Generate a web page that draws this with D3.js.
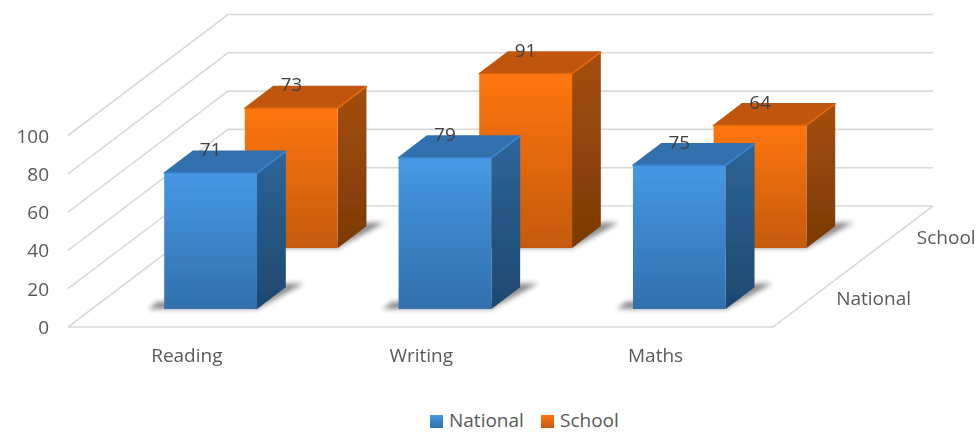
<!DOCTYPE html>
<html>
<head>
<meta charset="utf-8">
<script src="https://cdn.jsdelivr.net/npm/d3@7"></script>
<style>
  html, body { margin: 0; padding: 0; background: #fff; }
  text { font-family: "Open Sans", sans-serif; fill: #595959; }
  .tick-label { font-size: 19px; }
  .cat-label { font-size: 19px; }
  .value-label { font-size: 19px; fill: #404040; }
</style>
</head>
<body>
<svg id="chart" width="978" height="433"></svg>
<script>
const categories = ["Reading", "Writing", "Maths"];
const seriesNames = ["National", "School"];
const national = [71, 79, 75];
const school = [73, 91, 64];
const yTicks = [0, 20, 40, 60, 80, 100];

const FLOOR = { left: 68, right: 773, front: 327, shiftX: 160, shiftY: 121 };
const PLOT_HEIGHT = 191.5;

const COLORS = {
  National: { front: ["#4698E4", "#3070AC"], side: ["#2C6598", "#1E4870"], top: "#3071AE", edge: "#3A86D0" },
  School: { front: ["#FF7611", "#C45A10"], side: ["#A44F0E", "#7C3904"], top: "#C0570B", edge: "#E5670C" },
};

const values = { National: national, School: school };

const svg = d3.select("#chart");
const defs = svg.append("defs");

const xScale = d3
  .scaleBand()
  .domain(categories)
  .range([0, FLOOR.right - FLOOR.left])
  .paddingInner(0.604)
  .paddingOuter(0.306)
  .align(0.505);

const depthScale = d3
  .scaleBand()
  .domain(seriesNames)
  .range([0, 1])
  .paddingInner(0.643)
  .paddingOuter(0.3135)
  .align(0.47);

const yScale = d3.scaleLinear().domain([0, 100]).range([0, PLOT_HEIGHT]);

// oblique projection: x along the categories, d into the page, v up
const project = (x, d, v) => [
  FLOOR.left + x + d * FLOOR.shiftX,
  FLOOR.front - d * FLOOR.shiftY - yScale(v),
];

const toPoints = (pts) => pts.map((p) => p.join(",")).join(" ");

const addGradient = (id, stops) => {
  const g = defs
    .append("linearGradient")
    .attr("id", id)
    .attr("x1", 0)
    .attr("y1", 0)
    .attr("x2", 0)
    .attr("y2", 1);
  g.append("stop").attr("offset", "0%").attr("stop-color", stops[0]);
  g.append("stop").attr("offset", "100%").attr("stop-color", stops[1]);
};

seriesNames.forEach((s) => {
  addGradient(`front-${s}`, COLORS[s].front);
  addGradient(`side-${s}`, COLORS[s].side);
});

defs
  .append("filter")
  .attr("id", "shadow-blur")
  .attr("x", "-30%")
  .attr("y", "-60%")
  .attr("width", "160%")
  .attr("height", "220%")
  .append("feGaussianBlur")
  .attr("stdDeviation", 2.6);

defs
  .append("filter")
  .attr("id", "soft")
  .append("feGaussianBlur")
  .attr("stdDeviation", 0.45);

// walls and floor
const grid = svg
  .append("g")
  .attr("fill", "none")
  .attr("stroke", "#D9D9D9")
  .attr("stroke-width", 1.6);

grid
  .selectAll("polyline.wall")
  .data(yTicks)
  .join("polyline")
  .attr("class", "wall")
  .attr("points", (v) =>
    toPoints([
      project(0, 0, v),
      project(0, 1, v),
      project(FLOOR.right - FLOOR.left, 1, v),
    ])
  );

grid
  .append("polyline")
  .attr(
    "points",
    toPoints([
      project(0, 0, 0),
      project(FLOOR.right - FLOOR.left, 0, 0),
      project(FLOOR.right - FLOOR.left, 1, 0),
    ])
  );

// back row first so the front row covers it
const bars = svg.append("g").attr("filter", "url(#soft)");

[...seriesNames].reverse().forEach((s) => {
  const d0 = depthScale(s);
  const d1 = d0 + depthScale.bandwidth();

  categories.forEach((c, i) => {
    const x0 = xScale(c);
    const x1 = x0 + xScale.bandwidth();
    const v = values[s][i];
    const g = bars.append("g");

    g.append("polygon")
      .attr(
        "points",
        toPoints([
          project(x0 - 16, d0, 0),
          project(x1, d0, 0),
          project(x1 + 13, d1 + 0.03, 0),
          project(x1 - 5, d1 + 0.03, 0),
          project(x1 - 5, d0 + 0.06, 0),
          project(x0 - 16, d0 + 0.06, 0),
        ])
      )
      .attr("fill", "#3a3a3a")
      .attr("opacity", 0.6)
      .attr("filter", "url(#shadow-blur)");

    g.append("polygon")
      .attr(
        "points",
        toPoints([
          project(x0, d0, v),
          project(x1, d0, v),
          project(x1, d1, v),
          project(x0, d1, v),
        ])
      )
      .attr("fill", COLORS[s].top)
      .attr("stroke", COLORS[s].top)
      .attr("stroke-width", 1.5)
      .attr("stroke-linejoin", "round");

    g.append("polygon")
      .attr(
        "points",
        toPoints([
          project(x1, d0, 0),
          project(x1, d1, 0),
          project(x1, d1, v),
          project(x1, d0, v),
        ])
      )
      .attr("fill", `url(#side-${s})`);

    g.append("polygon")
      .attr(
        "points",
        toPoints([
          project(x0, d0, 0),
          project(x1, d0, 0),
          project(x1, d0, v),
          project(x0, d0, v),
        ])
      )
      .attr("fill", `url(#front-${s})`);

    // bevel along the top edges
    g.append("polyline")
      .attr(
        "points",
        toPoints([project(x0, d0, v), project(x1, d0, v), project(x1, d1, v)])
      )
      .attr("fill", "none")
      .attr("stroke", COLORS[s].edge)
      .attr("stroke-width", 1.6)
      .attr("stroke-linejoin", "round");
  });
});

// value labels sit on the back edge of each bar top
seriesNames.forEach((s) => {
  svg
    .append("g")
    .selectAll("text")
    .data(categories)
    .join("text")
    .attr("class", "value-label")
    .attr("text-anchor", "middle")
    .attr("x", (c) => project(xScale(c) + xScale.bandwidth() / 2, depthScale(s), 0)[0])
    .attr("y", (c, i) => project(0, depthScale(s) + depthScale.bandwidth(), values[s][i])[1] + 5)
    .text((c, i) => values[s][i]);
});

// value axis
svg
  .append("g")
  .selectAll("text")
  .data(yTicks)
  .join("text")
  .attr("class", "tick-label")
  .attr("text-anchor", "end")
  .attr("x", 49)
  .attr("y", (v) => project(0, 0, v)[1] + 7)
  .text((v) => v);

// category axis
svg
  .append("g")
  .selectAll("text")
  .data(categories)
  .join("text")
  .attr("class", "cat-label")
  .attr("text-anchor", "middle")
  .attr("x", (c) => FLOOR.left + xScale(c) + xScale.bandwidth() / 2)
  .attr("y", 362)
  .text((c) => c);

// depth axis
svg
  .append("g")
  .selectAll("text")
  .data(seriesNames)
  .join("text")
  .attr("class", "cat-label")
  .attr("x", (s) => {
    const d = depthScale(s) + depthScale.bandwidth() / 2;
    return project(FLOOR.right - FLOOR.left, d, 0)[0] + 25;
  })
  .attr("y", (s) => {
    const d = depthScale(s) + depthScale.bandwidth() / 2;
    return project(FLOOR.right - FLOOR.left, d, 0)[1] + 7;
  })
  .text((s) => s);

// legend, kept high enough that the text box stays inside the picture
const legendX = { National: 430, School: 541 };

const legend = svg
  .append("g")
  .selectAll("g")
  .data(seriesNames)
  .join("g")
  .attr("transform", (s) => `translate(${legendX[s]}, 415)`);

legend
  .append("rect")
  .attr("width", 13)
  .attr("height", 13)
  .attr("fill", (s) => `url(#front-${s})`);

legend
  .append("text")
  .attr("class", "cat-label")
  .attr("x", 19)
  .attr("y", 12)
  .text((s) => s);
</script>
</body>
</html>
